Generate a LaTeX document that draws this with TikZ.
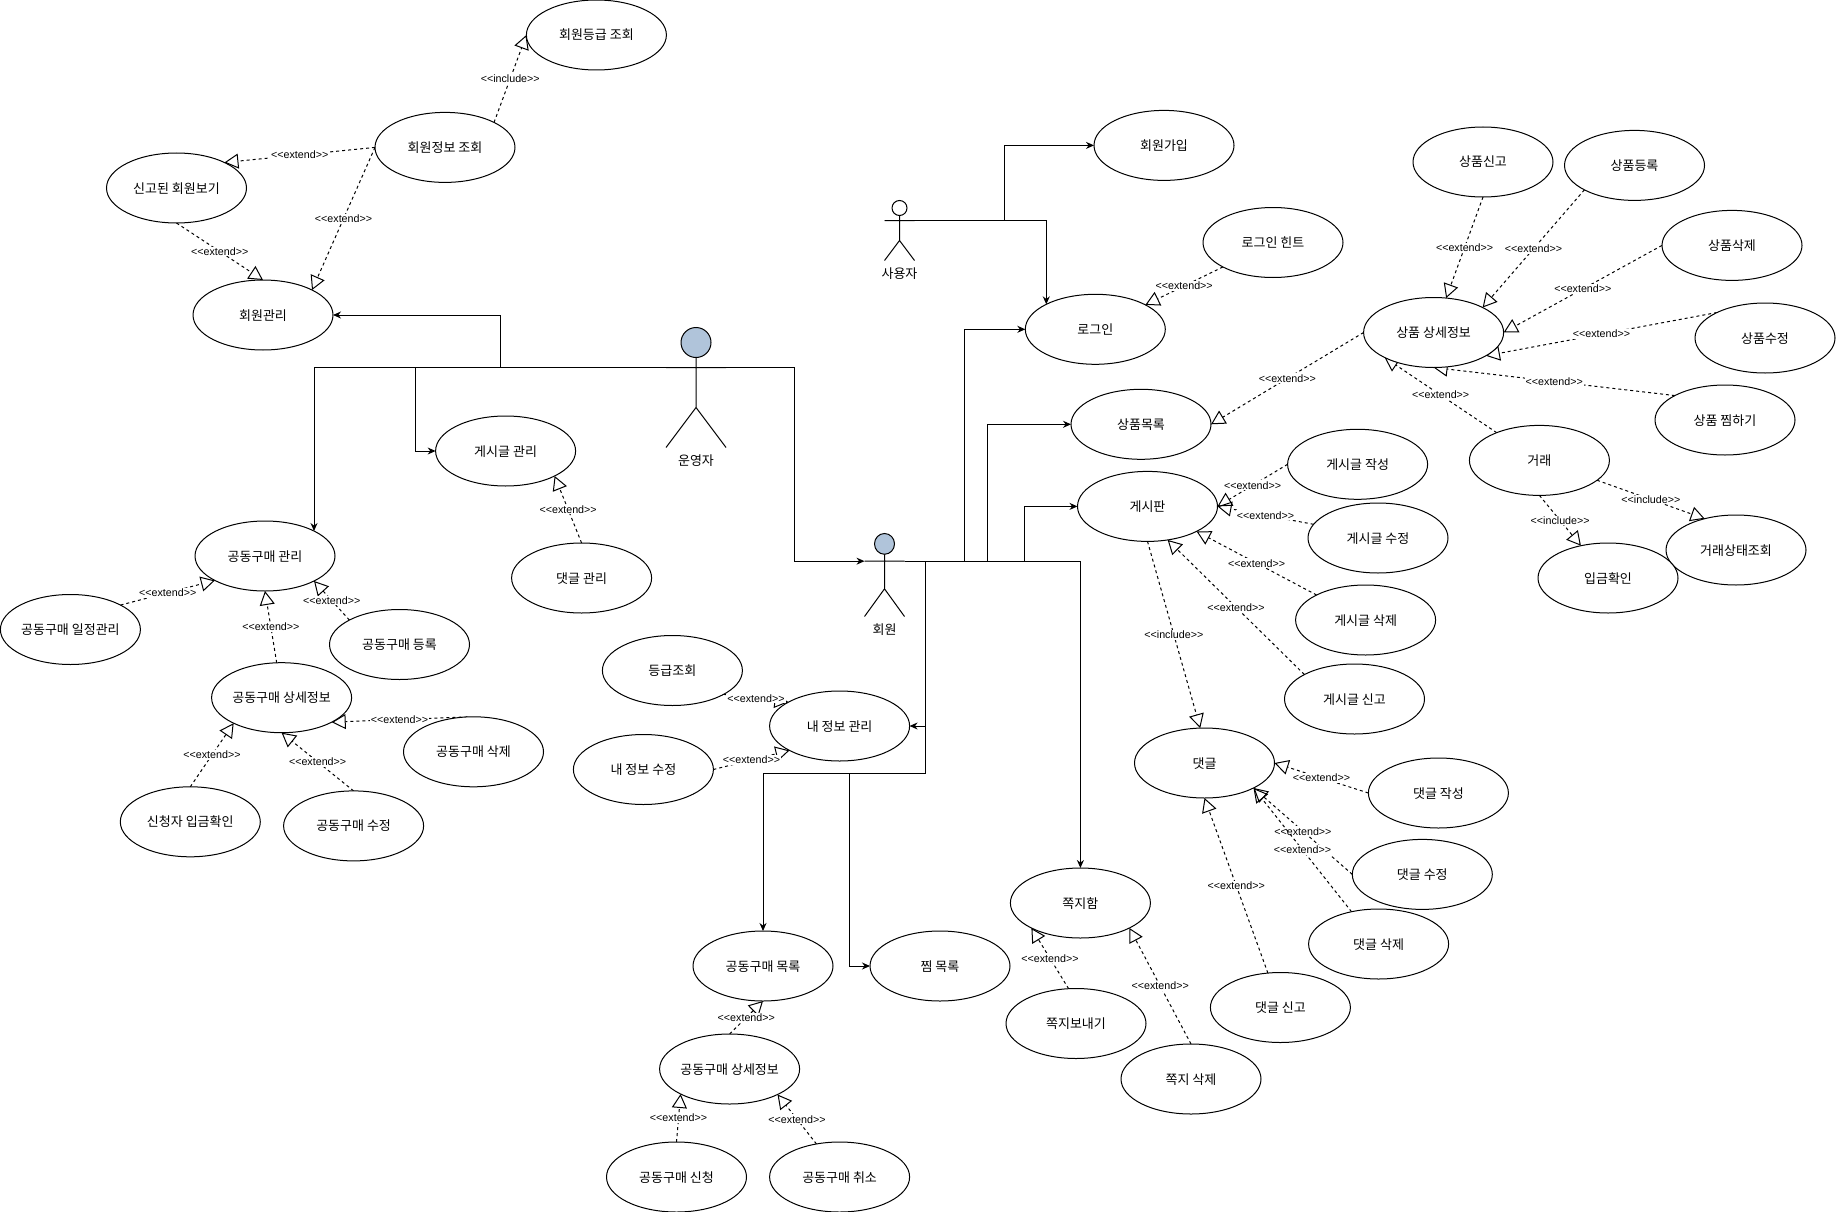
\documentclass[tikz,border=0pt]{standalone}
\usepackage{fontspec}
\setmainfont{Liberation Sans}
\newfontfamily\krfont{Noto Sans CJK KR}
\newfontfamily\lblfont{Liberation Sans}
\usetikzlibrary{arrows.meta,shapes.geometric,backgrounds}
\definecolor{headblue}{HTML}{B0C4DA}
\tikzset{
  usecase/.style={ellipse,draw,fill=white,line width=1pt,minimum width=140pt,minimum height=70pt,inner sep=0pt,outer sep=0pt,text height=10pt,text depth=0pt,font=\krfont\fontsize{13}{15}\selectfont},
  lbl/.style={fill=white,inner sep=1pt,font=\lblfont\fontsize{10.7}{12}\selectfont},
  actortxt/.style={inner sep=0pt,text height=10pt,text depth=0pt,font=\krfont\fontsize{13}{15}\selectfont},
  ext/.style={line width=1pt,dash pattern=on 3pt off 3pt,-{Triangle[open,length=14pt,width=15pt]}},
  flow/.style={line width=1pt,-{Stealth[length=8pt,width=7pt]}}
}
% name, centre x, top, width, height, head colour, text
\newcommand{\actorman}[7]{
  \node[ellipse,draw,fill=#6,line width=1pt,inner sep=0pt,outer sep=0pt,minimum width={#4*0.5pt},minimum height={#5*0.25pt}] (#1head) at (#2,{#3+#5/8}) {};
  \coordinate (#1-l) at ({#2-#4/2},{#3+#5/3});
  \coordinate (#1-r) at ({#2+#4/2},{#3+#5/3});
  \coordinate (#1-hip) at (#2,{#3+#5*2/3});
  \coordinate (#1-lf) at ({#2-#4/2},{#3+#5});
  \coordinate (#1-rf) at ({#2+#4/2},{#3+#5});
  \draw[line width=1pt] (#1head.south) -- (#1-hip) -- (#1-lf) (#1-hip) -- (#1-rf) (#1-l) -- (#1-r);
  \node[actortxt] (#1txt) at (#2,{#3+#5+13}) {#7};
}
\begin{document}
\begin{tikzpicture}[x=1pt,y=-1pt]
\useasboundingbox (0,0) rectangle (1836,1212);
% admin side
\node[usecase] (gradeView) at (596.4,35) {회원등급 조회};
\node[usecase] (infoView) at (445,147.4) {회원정보 조회};
\node[usecase] (reported) at (176.5,188) {신고된 회원보기};
\node[usecase] (memberMgr) at (263,315) {회원관리};
\node[usecase] (postMgr) at (505.6,451) {게시글 관리};
\node[usecase] (replyMgr) at (581.6,578) {댓글 관리};
\node[usecase] (gpMgr) at (265,556) {공동구매 관리};
\node[usecase] (gpPlan) at (70.4,629.5) {공동구매 일정관리};
\node[usecase] (gpAdd) at (399.5,644.5) {공동구매 등록};
\node[usecase] (gpInfo) at (281.6,697.7) {공동구매 상세정보};
\node[usecase] (gpDel) at (473.5,751.8) {공동구매 삭제};
\node[usecase] (gpPaid) at (190.3,821.8) {신청자 입금확인};
\node[usecase] (gpEdit) at (353.6,825.9) {공동구매 수정};
% member side
\node[usecase] (grade) at (672.4,670.5) {등급조회};
\node[usecase] (myEdit) at (643.4,769.5) {내 정보 수정};
\node[usecase] (myInfo) at (839.6,726) {내 정보 관리};
\node[usecase] (gpList) at (763,966) {공동구매 목록};
\node[usecase] (wishList) at (940,966) {찜 목록};
\node[usecase] (gpDetail) at (729.6,1069) {공동구매 상세정보};
\node[usecase] (gpApply) at (676.5,1177) {공동구매 신청};
\node[usecase] (gpCancel) at (839.6,1177) {공동구매 취소};
\node[usecase] (join) at (1164,145.4) {회원가입};
\node[usecase] (hint) at (1273,242.5) {로그인 힌트};
\node[usecase] (login) at (1095.3,329.3) {로그인};
\node[usecase] (goodsList) at (1141,424.3) {상품목록};
\node[usecase] (board) at (1147.5,506.4) {게시판};
\node[usecase] (postAdd) at (1357.6,464.3) {게시글 작성};
\node[usecase] (postEdit) at (1378,538) {게시글 수정};
\node[usecase] (postDel) at (1365.6,620) {게시글 삭제};
\node[usecase] (postRep) at (1354.5,699) {게시글 신고};
% goods
\node[usecase] (goods) at (1433.6,332.5) {상품 상세정보};
\node[usecase] (goodsRep) at (1483,162) {상품신고};
\node[usecase] (goodsAdd) at (1634.5,165.4) {상품등록};
\node[usecase] (goodsDel) at (1732,245.4) {상품삭제};
\node[usecase] (goodsEdit) at (1765,338) {상품수정};
\node[usecase] (goodsWish) at (1725,420) {상품 찜하기};
\node[usecase] (deal) at (1539.4,460.4) {거래};
\node[usecase] (dealState) at (1736,550) {거래상태조회};
\node[usecase] (dealPaid) at (1608,578) {입금확인};
% replies and notes
\node[usecase] (reply) at (1204.5,763) {댓글};
\node[usecase] (replyAdd) at (1438.4,793) {댓글 작성};
\node[usecase] (replyEdit) at (1422.3,874.4) {댓글 수정};
\node[usecase] (replyDel) at (1378.6,944) {댓글 삭제};
\node[usecase] (replyRep) at (1280.4,1007.5) {댓글 신고};
\node[usecase] (noteBox) at (1080.4,903) {쪽지함};
\node[usecase] (noteSend) at (1076,1023.5) {쪽지보내기};
\node[usecase] (noteDel) at (1191,1079) {쪽지 삭제};
% actors
\actorman{admin}{696}{327.5}{60}{120}{headblue}{운영자}
\actorman{guest}{899.5}{200.5}{30}{60}{white}{사용자}
\actorman{member}{884.5}{533.5}{40}{83}{headblue}{회원}
\begin{scope}[on background layer]
\draw[flow] (admin-l) -- ++(-166,0) |- (memberMgr.east);
\draw[flow] (admin-l) -- ++(-251,0) |- (postMgr.west);
\draw[flow] (admin-l) -| (gpMgr.27);
\draw[flow] (admin-r) -- ++(68.5,0) |- (member-l);
\draw[flow] (guest-l) -| (login.153);
\draw[flow] (guest-l) -- ++(120,0) |- (join.west);
\draw[flow] (member-r) -- ++(60,0) |- (login.west);
\draw[flow] (member-r) -- ++(83.3,0) |- (goodsList.west);
\draw[flow] (member-r) -- ++(119.6,0) |- (board.west);
\draw[flow] (member-r) -| (noteBox.north);
\draw[flow] (member-r) -- ++(20.5,0) |- (myInfo.east);
\draw[flow] (member-r) -- ++(20.5,0) -- ++(0,212) -| (gpList.north);
\draw[flow] (member-r) -- ++(20.5,0) -- ++(0,212) -- ++(-75.5,0) |- (wishList.west);
% left group
\draw[ext] (infoView.27) -- node[lbl] {<<include>>} (gradeView.180);
\draw[ext] (infoView.180) -- node[lbl] {<<extend>>} (reported.28);
\draw[ext] (infoView.180) -- node[lbl] {<<extend>>} (memberMgr.27);
\draw[ext] (reported.south) -- node[lbl] {<<extend>>} (memberMgr.north);
\draw[ext] (replyMgr.north) -- node[lbl] {<<extend>>} (postMgr.-27);
\draw[ext] (gpPlan.26) -- node[lbl] {<<extend>>} (gpMgr.206);
\draw[ext] (gpAdd.154) -- node[lbl] {<<extend>>} (gpMgr.-27);
\draw[ext] (gpInfo.98) -- node[lbl] {<<extend>>} (gpMgr.south);
\draw[ext] (gpDel.100) -- node[lbl] {<<extend>>} (gpInfo.-26);
\draw[ext] (gpPaid.north) -- node[lbl] {<<extend>>} (gpInfo.208);
\draw[ext] (gpEdit.north) -- node[lbl] {<<extend>>} (gpInfo.south);
% my info
\draw[ext] (grade.-25) -- node[lbl] {<<extend>>} (myInfo.155);
\draw[ext] (myEdit.east) -- node[lbl] {<<extend>>} (myInfo.206);
\draw[ext] (gpDetail.north) -- node[lbl] {<<extend>>} (gpList.south);
\draw[ext] (gpApply.north) -- node[lbl] {<<extend>>} (gpDetail.207);
\draw[ext] (gpCancel.125) -- node[lbl] {<<extend>>} (gpDetail.-28);
% goods
\draw[ext] (hint.206) -- node[lbl] {<<extend>>} (login.26);
\draw[ext] (goods.west) -- node[lbl] {<<extend>>} (goodsList.east);
\draw[ext] (goodsRep.south) -- node[lbl] {<<extend>>} (goods.70);
\draw[ext] (goodsAdd.206) -- node[lbl] {<<extend>>} (goods.27);
\draw[ext] (goodsDel.west) -- node[lbl] {<<extend>>} (goods.east);
\draw[ext] (goodsEdit.152) -- node[lbl] {<<extend>>} (goods.-24);
\draw[ext] (goodsWish.154) -- node[lbl] {<<extend>>} (goods.south);
\draw[ext] (deal.147) -- node[lbl] {<<extend>>} (goods.207);
\draw[ext] (deal.south) -- node[lbl] {<<include>>} (dealPaid.130);
\draw[ext] (deal.-19) -- node[lbl] {<<include>>} (dealState.135);
% board
\draw[ext] (postAdd.west) -- node[lbl] {<<extend>>} (board.east);
\draw[ext] (postEdit.168) -- node[lbl] {<<extend>>} (board.east);
\draw[ext] (postDel.153) -- node[lbl] {<<extend>>} (board.-27);
\draw[ext] (postRep.154) -- node[lbl] {<<extend>>} (board.-59);
\draw[ext] (board.south) -- node[lbl] {<<include>>} (reply.97);
\draw[ext] (replyAdd.west) -- node[lbl] {<<extend>>} (reply.east);
\draw[ext] (replyEdit.west) -- node[lbl] {<<extend>>} (reply.-27);
\draw[ext] (replyDel.130) -- node[lbl] {<<extend>>} (reply.-27);
\draw[ext] (replyRep.110) -- node[lbl] {<<extend>>} (reply.south);
\draw[ext] (noteSend.102) -- node[lbl] {<<extend>>} (noteBox.207);
\draw[ext] (noteDel.north) -- node[lbl] {<<extend>>} (noteBox.-27);
\end{scope}
\end{tikzpicture}
\end{document}
